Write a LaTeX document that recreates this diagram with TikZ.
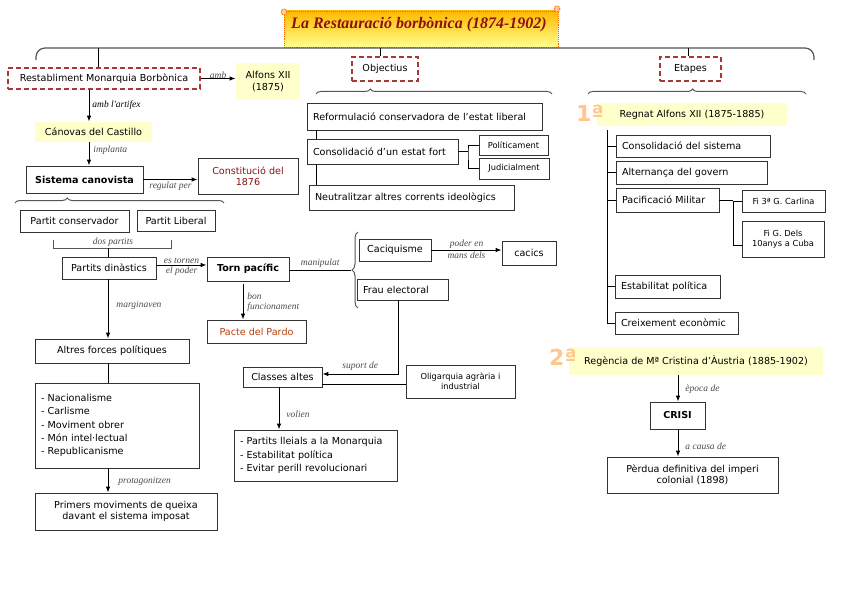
\documentclass[tikz,border=0pt]{standalone}
\usepackage{fontspec}
\setmainfont{DejaVu Sans}
\newfontfamily\lblfont{Liberation Serif}
\newfontfamily\titfont{Liberation Serif}
\usetikzlibrary{arrows.meta,decorations.pathreplacing}
\definecolor{vermell}{HTML}{A83838}
\definecolor{groc}{HTML}{FFFFCC}
\definecolor{taronja}{HTML}{FFC78F}
\definecolor{granat}{HTML}{8C1010}
\definecolor{teula}{HTML}{B8400F}
\definecolor{gris}{HTML}{555555}
\tikzset{
  caixa/.style={draw=black!80, line width=0.8pt, fill=white, inner sep=2pt, align=center,
    font=\fontsize{9.6}{11.5}\selectfont},
  esq/.style={caixa, align=left, inner xsep=6pt, text width=#1},
  petita/.style={caixa, font=\fontsize{8.3}{10}\selectfont},
  discont/.style={caixa, draw=vermell, line width=1.2pt, dash pattern=on 5pt off 3pt},
  groga/.style={caixa, draw=none, fill=groc},
  negreta/.style={caixa, font=\bfseries\fontsize{9.6}{11.5}\selectfont},
  lbl/.style={font=\lblfont\itshape\fontsize{9.5}{10.5}\selectfont, text=black!70, inner sep=1pt},
  clau/.style={draw=gris, line width=1pt, decorate},
  ordre/.style={font=\bfseries\fontsize{22}{22}\selectfont, text=taronja},
}
\begin{document}
\begin{tikzpicture}[x=1pt,y=-1pt,>={Latex[length=6pt,width=4.5pt]},line width=0.9pt]
	\useasboundingbox (0,0) rectangle (848,599);
	% titol
	\shade[top color=orange!55!yellow, bottom color=yellow!45, draw=orange!80!red, densely dotted] (284,11) rectangle (558,47);
	\draw[orange!80!red, densely dotted, fill=orange!40] (284,12) circle (3) (557,9) circle (3);
	\node[font=\titfont\bfseries\itshape\fontsize{16}{18}\selectfont, text=granat] (titol) at (419,25) {La Restauració borbònica (1874-1902)};
	\draw[gris, line width=1.2pt, rounded corners=9pt] (36,60) |- (425,48) -| (814,60);
	\coordinate (t1) at (98,48);
	\coordinate (t2) at (380,48);
	\coordinate (t3) at (688,48);

	% columna esquerra
	\node[discont, minimum width=192, minimum height=21] (rest) at (104,78.5) {Restabliment Monarquia Borbònica};
	\node[groga, minimum width=64, minimum height=37] (alf) at (268,81.5) {Alfons XII\\(1875)};
	\node[groga, minimum width=117, minimum height=20] (cano) at (93.5,132) {Cánovas del Castillo};
	\node[negreta, minimum width=117, minimum height=27] (sis) at (84.5,179.5) {Sistema canovista};
	\node[caixa, text=granat, minimum width=100, minimum height=36] (const) at (248,176) {Constitució del\\1876};
	\node[caixa, minimum width=109, minimum height=22] (pcons) at (74.5,221) {Partit conservador};
	\node[caixa, minimum width=78, minimum height=21] (plib) at (176,220.5) {Partit Liberal};
	\node[caixa, minimum width=94, minimum height=22] (pdin) at (109,268) {Partits dinàstics};
	\node[negreta, minimum width=82, minimum height=24] (torn) at (248,269) {Torn pacífic};
	\node[caixa, text=teula, minimum width=99, minimum height=23] (pacte) at (256.5,331.5) {Pacte del Pardo};
	\node[caixa, minimum width=154, minimum height=24] (altres) at (112,351) {Altres forces polítiques};
	\node[esq=152pt, minimum height=85, font=\fontsize{9.6}{13.4}\selectfont] (forces) at (117,425.5) {- Nacionalisme\\- Carlisme\\- Moviment obrer\\- Món intel·lectual\\- Republicanisme\\[10pt]};
	\node[caixa, minimum width=182, minimum height=37] (primers) at (126,511.5) {Primers moviments de queixa\\davant el sistema imposat};

	\draw (t1) -- (t1 |- rest.north);
	\draw[->] (rest.east) -- (rest.east -| alf.west) node[lbl, midway, above=-2pt] {amb};
	\draw[->] (rest.south -| 89,0) -- (cano.north -| 89,0) node[lbl, midway, right=2pt, text=black] {amb l'artifex};
	\draw[->] (cano.south -| 89,0) -- (sis.north -| 89,0) node[lbl, midway, right=3pt, yshift=4pt] {implanta};
	\draw[->] (sis.east) -- (sis.east -| const.west) node[lbl, midway, below=1pt] {regulat per};
	\draw[clau, decoration={brace, amplitude=5pt, aspect=0.25}] (15,203) -- (224,203);
	\draw[gris] (53,240) |- (171,248) -- (171,240);
	\node[lbl] at (113,242) {dos partits};
	\draw (108,248) -- (pdin.north -| 108,0);
	\draw[->] (pdin.east |- 0,265) -- (torn.west |- 0,265) node[lbl, midway, above=0pt] {es tornen} node[lbl, midway, below=0pt] {el poder};
	\draw[->] (torn.south -| 243,0) ++(0,3) -- (pacte.north -| 243,0) node[lbl, midway, right=3pt, align=left] {bon\\funcionament};
	\draw[->] (pdin.south -| 108,0) -- (altres.north -| 108,0) node[lbl, midway, right=7pt, yshift=4pt] {marginaven};
	\draw (altres.south -| 108,0) -- (forces.north -| 108,0);
	\draw[->] (forces.south -| 108,0) -- (primers.north -| 108,0) node[lbl, midway, right=9pt, yshift=-1pt] {protagonitzen};

	% objectius
	\node[discont, minimum width=66, minimum height=24] (obj) at (385,69) {Objectius};
	\draw (t2) -- (t2 |- obj.north);
	\draw[clau, decoration={brace, amplitude=5pt, aspect=0.23}] (316,94) -- (552,94);
	\node[esq=223pt, minimum height=27] (reform) at (424.5,116.5) {Reformulació conservadora de l'estat liberal};
	\node[esq=139pt, minimum height=25] (consol) at (382.5,151.5) {Consolidació d'un estat fort};
	\node[petita, minimum width=69, minimum height=20] (polit) at (513.5,145) {Políticament};
	\node[petita, minimum width=70, minimum height=21] (judic) at (514,168.5) {Judicialment};
	\node[esq=193pt, minimum height=25] (neutr) at (411.5,197.5) {Neutralitzar altres corrents ideològics};
	\draw (reform.south -| 316,0) -- (consol.north -| 316,0);
	\draw (consol.south -| 316,0) -- (neutr.north -| 316,0);
	\draw (consol.east) -- (468,151.5);
	\draw (polit.west) -| (468,151.5) |- (judic.west);

	% caciquisme
	\draw[clau, decoration={brace, amplitude=6pt}] (358,308) -- (358,232);
	\coordinate (pc) at (351,270);
	\draw (torn.east |- pc) -- (pc) node[lbl, midway, above=1pt] {manipulat};
	\node[caixa, minimum width=72, minimum height=22] (caci) at (395,250) {Caciquisme};
	\node[caixa, minimum width=54, minimum height=24] (cacics) at (529,253) {cacics};
	\node[esq=79pt, minimum height=21] (frau) at (402.5,289.5) {Frau electoral};
	\draw[->] (caci.east) -- (caci.east -| cacics.west) node[lbl, midway, above=0pt] {poder en} node[lbl, midway, below=0pt] {mans dels};
	\node[caixa, minimum width=79, minimum height=20] (classes) at (282.5,377) {Classes altes};
	\node[petita, minimum width=109, minimum height=33] (oliga) at (460.5,381.5) {Oligarquia agrària i\\industrial};
	\draw[->] (frau.south -| 398,0) |- ([yshift=3pt]classes.east) node[lbl, pos=0.75, above=2pt] {suport de};
	\draw (oliga.west |- 0,384) -- (classes.east |- 0,384);
	\node[esq=151pt, minimum height=51, font=\fontsize{9.6}{13.4}\selectfont] (volen) at (315.5,455.5) {- Partits lleials a la Monarquia\\- Estabilitat política\\- Evitar perill revolucionari};
	\draw[->] (classes.south -| 279,0) -- (volen.north -| 279,0) node[lbl, midway, right=6pt, yshift=-6pt] {volien};

	% etapes
	\node[discont, minimum width=61, minimum height=24] (etap) at (690.5,69) {Etapes};
	\draw (t3) -- (t3 |- etap.north);
	\draw[clau, decoration={brace, amplitude=5pt, aspect=0.48}] (588,94) -- (806,94);
	\node[groga, minimum width=190, minimum height=23] (regnat) at (692,114.5) {Regnat Alfons XII (1875-1885)};
	\node[ordre] (u) at (590,113) {1ª};
	\node[esq=142pt, minimum height=22] (csis) at (693,146) {Consolidació del sistema};
	\node[esq=139pt, minimum height=23] (alt) at (691.5,172.5) {Alternança del govern};
	\node[esq=91pt, minimum height=24] (pacif) at (667.5,200) {Pacificació Militar};
	\node[esq=93pt, minimum height=23] (estab) at (667.5,286.5) {Estabilitat política};
	\node[esq=111pt, minimum height=22] (creix) at (676.5,323) {Creixement econòmic};
	\node[petita, minimum width=83, minimum height=22] (fi3) at (783.5,201) {Fi 3ª G. Carlina};
	\node[petita, minimum width=82, minimum height=36] (fi10) at (783,239) {Fi G. Dels\\10anys a Cuba};
	\draw (607,130) -- (607,323);
	\foreach \n in {csis,alt,pacif,estab,creix}
		\draw (\n.west -| 607,0) -- (\n.west);
	\draw (pacif.east) -- (733,200);
	\draw (fi3.west) -| (733,245) -- (fi10.west |- 0,245);

	\node[groga, minimum width=254, minimum height=28] (regen) at (696,361) {Regència de Mª Cristina d'Àustria (1885-1902)};
	\node[ordre] (d) at (563,357) {2ª};
	\node[negreta, minimum width=55, minimum height=27] (crisi) at (677.5,415.5) {CRISI};
	\node[caixa, minimum width=171, minimum height=36] (perdua) at (692.5,475) {Pèrdua definitiva del imperi\\colonial (1898)};
	\draw[->] (regen.south -| 678,0) -- (crisi.north -| 678,0) node[lbl, midway, right=6pt, yshift=-1pt] {època de};
	\draw[->] (crisi.south -| 678,0) -- (perdua.north -| 678,0) node[lbl, midway, right=6pt, yshift=-3pt] {a causa de};
\end{tikzpicture}
\end{document}
